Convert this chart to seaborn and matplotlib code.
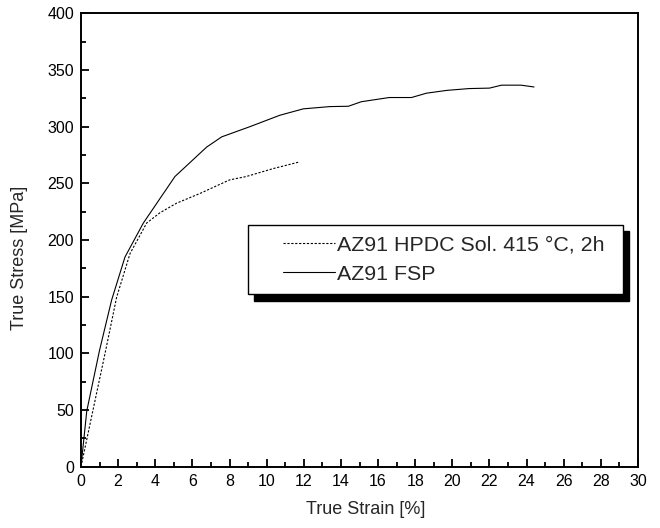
import numpy as np
import pandas as pd
import matplotlib
matplotlib.use("Agg")
import matplotlib.pyplot as plt
from matplotlib.ticker import MultipleLocator
from matplotlib.lines import Line2D
from matplotlib.legend_handler import HandlerLine2D
import seaborn as sns

# ── Data ─────────────────────────────────────────────────────────────────────
fsp_strain = [0.0, 0.31, 0.99, 1.65, 2.37, 3.36, 5.06, 6.77, 7.58, 9.1, 10.7,
              11.97, 13.4, 14.4, 15.1, 16.6, 17.8, 18.6, 19.7, 20.9, 22.0,
              22.65, 23.7, 24.4]
fsp_stress = [0, 49, 102, 147, 185, 215, 256, 282, 291, 300, 310,
              315.7, 317.7, 318, 322, 325.7, 325.7, 329.5, 332, 333.6, 334,
              336.6, 336.6, 335]

hpdc_strain = [0.0, 0.57, 1.29, 1.92, 2.64, 3.54, 4.25, 5.15, 6.4, 8.0, 8.9,
               10.35, 11.7]
hpdc_stress = [0, 44, 99.5, 149.5, 188, 215, 224, 232.5, 241, 253, 256,
               263, 268.6]

label_hpdc = "AZ91 HPDC Sol. 415 °C, 2h"
label_fsp = "AZ91 FSP"

# ── Style ─────────────────────────────────────────────────────────────────────
sns.set_style("ticks")
plt.rcParams["font.family"] = ["Liberation Sans", "DejaVu Sans"]
plt.rcParams["xtick.direction"] = "in"
plt.rcParams["ytick.direction"] = "in"

fig = plt.figure(figsize=(6.6, 5.28), dpi=100)
ax = fig.add_axes([0.1227, 0.1161, 0.8440, 0.8587])

sns.lineplot(x=hpdc_strain, y=hpdc_stress, ax=ax, color="black", lw=0.8,
             linestyle=(0, (2, 1.5)), label=label_hpdc, sort=False)
sns.lineplot(x=fsp_strain, y=fsp_stress, ax=ax, color="black", lw=0.8,
             label=label_fsp, sort=False)

ax.set_xlim(0, 30)
ax.set_ylim(0, 400)
ax.xaxis.set_major_locator(MultipleLocator(2))
ax.xaxis.set_minor_locator(MultipleLocator(1))
ax.yaxis.set_major_locator(MultipleLocator(50))
ax.yaxis.set_minor_locator(MultipleLocator(25))
ax.tick_params(which="major", length=6, width=1.3, labelsize=11.5, color="black",
               labelcolor="black", pad=5)
ax.tick_params(which="minor", length=3.5, width=1.3, color="black")
for sp in ax.spines.values():
    sp.set_visible(True)
    sp.set_linewidth(1.4)
    sp.set_color("black")

ax.set_xlabel("True Strain [%]", fontsize=13)
ax.set_ylabel("True Stress [MPa]", fontsize=13)
ax.xaxis.set_label_coords(0.512, -0.076)
ax.yaxis.set_label_coords(-0.095, 0.46)

# legend box with hard black drop shadow
leg = ax.legend(loc="upper left", bbox_to_anchor=(0.30, 0.383, 0.673, 0.15),
                mode="expand", fontsize=15.4, frameon=True, fancybox=False,
                shadow={"color": "black", "alpha": 1, "ox": 4.5, "oy": -4.5},
                handler_map={Line2D: HandlerLine2D(xpad=1.12)},
                handlelength=3.56, handletextpad=0.1, borderpad=0.51,
                labelspacing=0.45, borderaxespad=0)
leg.get_frame().set_edgecolor("black")
leg.get_frame().set_linewidth(1.0)
leg.get_frame().set_alpha(1)

fig.savefig("out.png", dpi=100)
